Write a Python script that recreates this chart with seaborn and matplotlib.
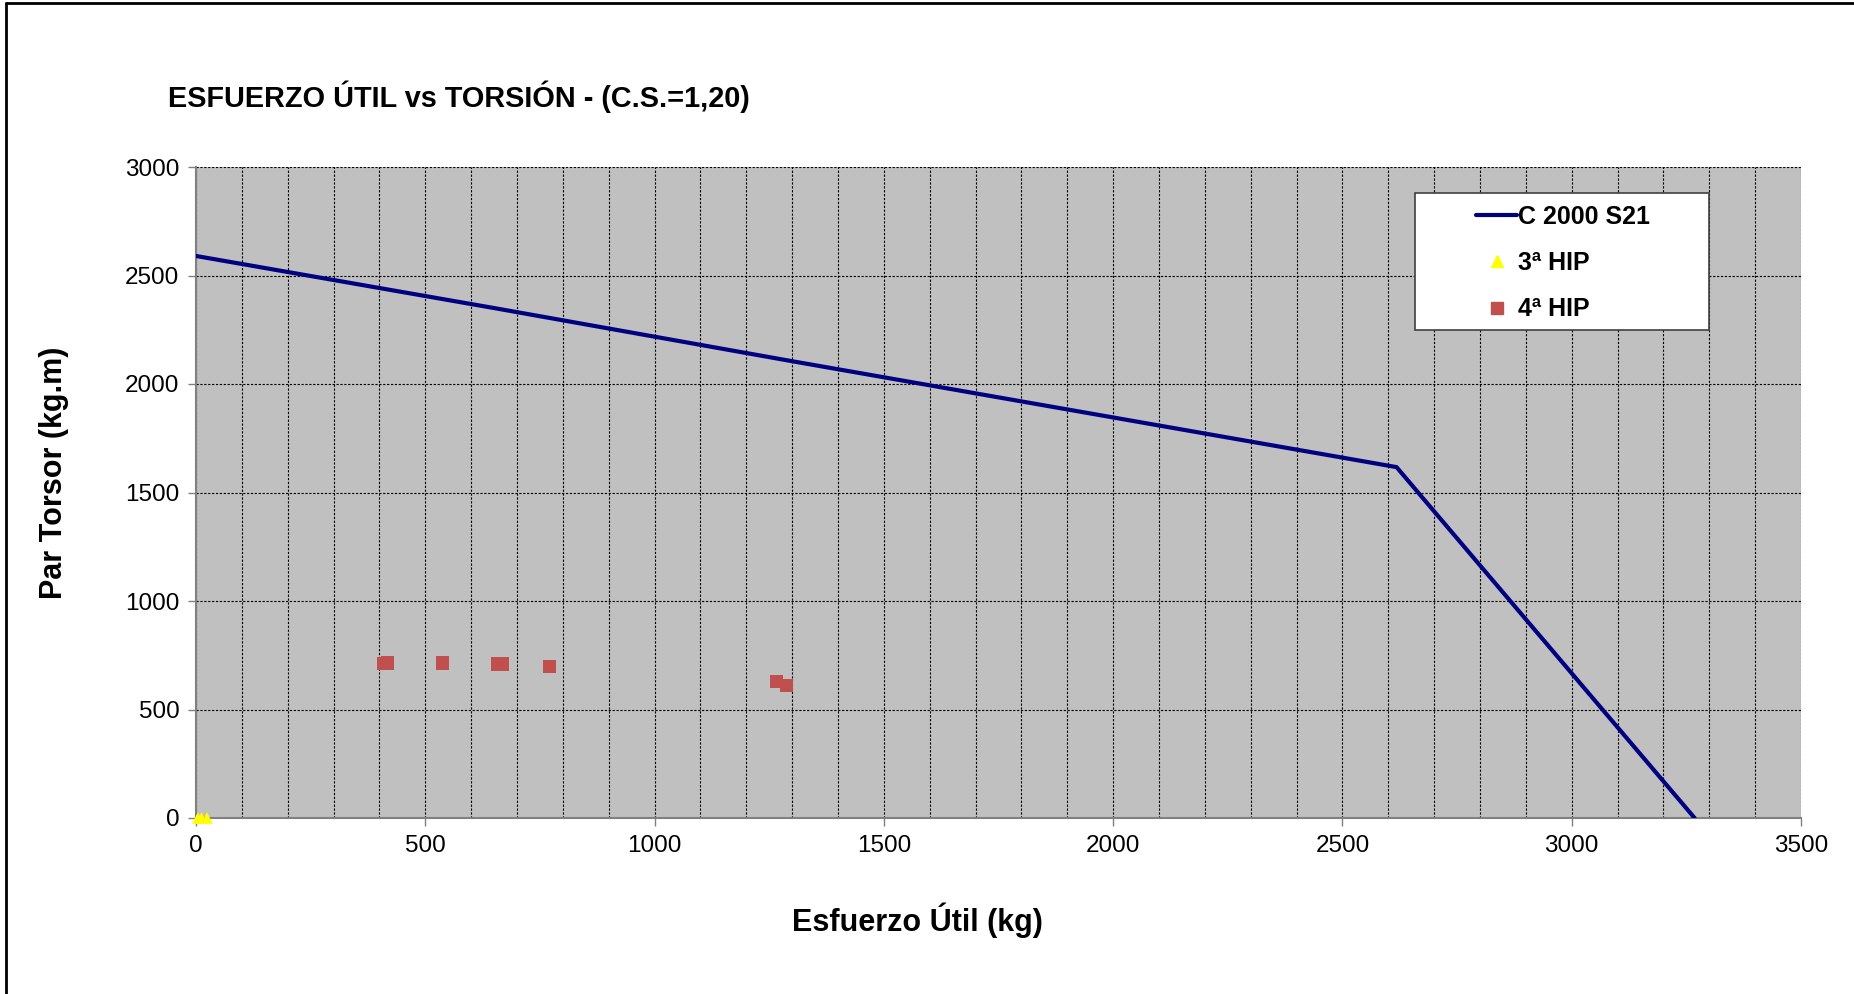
import matplotlib
matplotlib.use("Agg")
import matplotlib.pyplot as plt
import numpy as np
import pandas as pd
import seaborn as sns
from matplotlib.lines import Line2D
from matplotlib.patches import Rectangle

# --- data ---
curve_x = [0, 650, 1300, 2618, 3268]
curve_y = [2590, 2350, 2105, 1617, 0]

hip3_x = [4, 12, 24]
hip3_y = [0, 0, 0]

hip4_x = [410, 418, 537, 657, 668, 771, 1265, 1288]
hip4_y = [712, 714, 714, 710, 710, 700, 628, 610]

LINE_COLOR = "#000080"
HIP3_COLOR = "#FFFF00"
HIP4_COLOR = "#C0504D"
BG = "#C0C0C0"

W, H = 1854, 994
AX_L, AX_R, AX_T, AX_B = 196, 1801, 167, 818


def ax_frac(px, py):
    """Pixel position (top-left origin) to axes fraction."""
    return (px - AX_L) / (AX_R - AX_L), (AX_B - py) / (AX_B - AX_T)


sns.set_theme(style="white")
plt.rcParams["font.family"] = ["Liberation Sans", "DejaVu Sans"]
plt.rcParams["text.color"] = "black"
plt.rcParams["axes.labelcolor"] = "black"

fig = plt.figure(figsize=(W / 100, H / 100), dpi=100)
ax = fig.add_axes([AX_L / W, 1 - AX_B / H, (AX_R - AX_L) / W, (AX_B - AX_T) / H])
ax.set_facecolor(BG)

curve = pd.DataFrame({"x": curve_x, "y": curve_y})
sns.lineplot(data=curve, x="x", y="y", ax=ax, color=LINE_COLOR, lw=3, sort=False, zorder=3)
sns.scatterplot(x=hip4_x, y=hip4_y, ax=ax, marker="s", s=90, color=HIP4_COLOR,
                edgecolor="none", zorder=4)
sns.scatterplot(x=hip3_x, y=hip3_y, ax=ax, marker="^", s=70, color=HIP3_COLOR,
                edgecolor="none", zorder=4, clip_on=False)

ax.set_xlim(0, 3500)
ax.set_ylim(0, 3000)
ax.set_xticks(np.arange(0, 3501, 500))
ax.set_xticks(np.arange(0, 3501, 100), minor=True)
ax.set_yticks(np.arange(0, 3001, 500))

ax.grid(False)
ax.xaxis.grid(True, which="both", color="black", ls=(0, (2, 1.5)), lw=0.8)
ax.yaxis.grid(True, which="major", color="black", ls=(0, (2, 1.5)), lw=0.8)
ax.set_axisbelow(True)

for side in ["top", "right"]:
    ax.spines[side].set_visible(False)
for side in ["left", "bottom"]:
    ax.spines[side].set_color("#808080")
    ax.spines[side].set_linewidth(1.5)

ax.tick_params(axis="both", which="major", direction="out", length=6, width=1,
               color="#808080", labelsize=17.5, labelcolor="black", bottom=True, left=True)
ax.tick_params(axis="x", which="minor", length=0)
ax.tick_params(axis="x", pad=6)
ax.tick_params(axis="y", pad=6)

ax.set_xlabel("Esfuerzo Útil (kg)", fontsize=22, fontweight="bold", va="center", color="black")
ax.xaxis.set_label_coords(*ax_frac(917, 920))
ax.set_ylabel("Par Torsor (kg.m)", fontsize=22, fontweight="bold", va="center", color="black")
ax.yaxis.set_label_coords(*ax_frac(54, 473))

fig.text(168 / W, 1 - 97 / H, "ESFUERZO ÚTIL vs TORSIÓN - (C.S.=1,20)",
         fontsize=20.8, fontweight="bold", ha="left", va="center", color="black")

# legend box drawn by hand (the reference pads it wider than tall)
bx0, by0 = ax_frac(1415, 330)
bx1, by1 = ax_frac(1709, 193)
ax.add_patch(Rectangle((bx0, by0), bx1 - bx0, by1 - by0, transform=ax.transAxes,
                       facecolor="white", edgecolor="#404040", lw=1.2, zorder=5))

handles = [
    Line2D([], [], color=LINE_COLOR, lw=3),
    Line2D([], [], marker="^", ls="none", color=HIP3_COLOR, markersize=8),
    Line2D([], [], marker="s", ls="none", color=HIP4_COLOR, markersize=9),
]
leg = ax.legend(handles, ["C 2000 S21", "3ª HIP", "4ª HIP"],
                loc="center left", bbox_to_anchor=ax_frac(1476, 263),
                frameon=False, prop={"size": 18, "weight": "bold"},
                handlelength=1.65, handletextpad=0.05, labelspacing=0.9,
                borderpad=0, borderaxespad=0)
for t in leg.get_texts():
    t.set_color("black")
leg.set_zorder(6)

# figure frame (top and left edges visible in the reference)
fig.add_artist(Line2D([6 / W, 1], [1 - 3 / H, 1 - 3 / H], color="black", lw=2,
                      transform=fig.transFigure))
fig.add_artist(Line2D([6 / W, 6 / W], [0, 1 - 3 / H], color="black", lw=2,
                      transform=fig.transFigure))

fig.savefig("out.png", dpi=100, facecolor="white")
